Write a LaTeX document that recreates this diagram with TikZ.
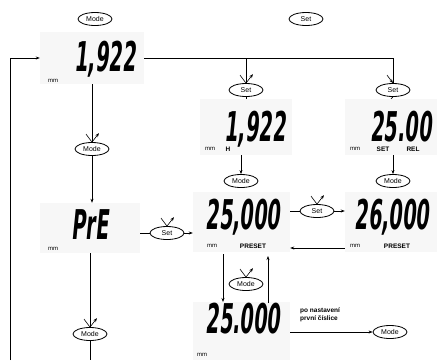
\documentclass[tikz,border=0pt]{standalone}
\usepackage{fontspec}
\setmainfont{Liberation Sans}
\newfontfamily\lcd[FakeSlant=0.10,FakeStretch=0.47]{DejaVu Sans}
\usetikzlibrary{shapes.geometric,arrows.meta}
\tikzset{
  btn/.style={ellipse, draw, line width=0.8pt, inner sep=0pt, minimum width=34pt, minimum height=13pt, font=\fontsize{7}{8}\selectfont},
  panel/.style={rectangle, draw=none, fill=black!3, inner sep=0pt},
  disp/.style={font=\lcd\bfseries\fontsize{41}{41}\selectfont, inner sep=0pt, text height=30pt, text depth=0pt},
  mmlbl/.style={font=\fontsize{6}{7}\selectfont, inner sep=0pt},
  tag/.style={font=\bfseries\fontsize{6.5}{7}\selectfont, inner sep=0pt},
  conn/.style={line width=0.6pt},
  arr/.style={-{Stealth[length=4pt,width=3pt]}, line width=0.6pt},
}
\newcommand\presson[1]{\draw[arr] (#1.north) ++(-6,-8) -- (#1.north) -- ++(7,-9);}
\begin{document}
\begin{tikzpicture}[x=1pt,y=-1pt]
\useasboundingbox (0,0) rectangle (437,360);
% panels
\node[panel, minimum width=104pt, minimum height=52pt] (p1) at (92,58) {};
\node[panel, minimum width=92pt, minimum height=56pt] (p2) at (246,127) {};
\node[panel, minimum width=92pt, minimum height=56pt] (p3) at (391,127) {};
\node[panel, minimum width=100pt, minimum height=50pt] (pPrE) at (90,228) {};
\node[panel, minimum width=97pt, minimum height=60pt] (p25) at (241.5,222) {};
\node[panel, minimum width=92pt, minimum height=60pt] (p26) at (391,222) {};
\node[panel, minimum width=97pt, minimum height=58pt] (p25b) at (241.5,331) {};
% top buttons
\node[btn] (modeTop) at (95,19) {Mode};
\node[btn] (setTop) at (306,19) {Set};
% displays
\node[disp] (d1) at (105,56) {1,922};
\node[mmlbl] (mm1) at (53,81) {mm};
\node[disp] (d2) at (255,126) {1,922};
\node[mmlbl] (mm2) at (210,149) {mm};
\node[tag] (h2) at (228,149) {H};
\node[disp] (d3) at (401,126) {25.00};
\node[mmlbl] (mm3) at (355,149) {mm};
\node[tag] (set3) at (383,149) {SET};
\node[tag] (rel3) at (413,149) {REL};
\node[disp] (dPrE) at (90,224) {PrE};
\node[mmlbl] (mmPrE) at (53,249) {mm};
\node[disp] (d25) at (243,214) {25,000};
\node[mmlbl] (mm25) at (212,246) {mm};
\node[tag] (pre25) at (253,246) {PRESET};
\node[disp] (d26) at (392,214) {26,000};
\node[mmlbl] (mm26) at (355,246) {mm};
\node[tag] (pre26) at (397,246) {PRESET};
\node[disp] (d25b) at (243,318) {25.000};
\node[mmlbl] (mm25b) at (202,355) {mm};
% buttons
\node[btn] (set1) at (246,90) {Set};
\node[btn] (set2) at (393,90) {Set};
\node[btn] (mode2) at (241,181) {Mode};
\node[btn] (mode3) at (393,181) {Mode};
\node[btn] (mode1) at (92,149) {Mode};
\node[btn] (set4) at (167,233) {Set};
\node[btn] (set5) at (317,211) {Set};
\node[btn] (mode6) at (246,284) {Mode};
\node[btn] (mode7) at (390,332) {Mode};
\node[btn] (mode8) at (90,334) {Mode};
\node[tag, align=left, anchor=west, font=\bfseries\fontsize{6.5}{8}\selectfont] (note) at (300,315) {po nastavení\\první číslice};
% coordinates
\coordinate (fb) at (10,360);
\coordinate (jM) at (246,58);
\coordinate (jR) at (393,58);
\coordinate (bot8) at (90,360);
% connectors
\draw[arr] (fb) |- (p1.west);
\draw[conn] (p1.east) -- (jR) -- (set2.north);
\draw[conn] (jM) -- (set1.north);
\presson{set1}
\draw[arr] (set2.north) ++(-6,-8) -- (set2.north);
\draw[conn] (set1.south) -- (p2.north);
\draw[conn] (set2.south) -- (p3.north);
\draw[arr] (mode2.north |- p2.south) -- (mode2.north);
\draw[arr] (mode3.north |- p3.south) -- (mode3.north);
\draw[conn] (p1.south) -- (mode1.north);
\presson{mode1}
\draw[arr] (mode1.south) -- (mode1.south |- pPrE.north);
\draw[conn] (pPrE.east |- set4.west) -- (set4.west);
\draw[arr] (set4.east) -- (p25.west |- set4.east);
\presson{set4}
\draw[conn] (p25.east |- set5.west) -- (set5.west);
\draw[arr] (set5.east) -- (p26.west |- set5.east);
\presson{set5}
\draw[arr] (p26.west |- 0,248) -- (p25.east |- 0,248);
\draw[arr] (223,254) -- (223,302);
\draw[arr] (268,303) -- (268,256);
\presson{mode6}
\draw[arr] (p25b.east |- mode7.west) -- (mode7.west);
\draw[conn] (pPrE.south) -- (mode8.north);
\presson{mode8}
\draw[conn] (mode8.south) -- (bot8);
\end{tikzpicture}
\end{document}
